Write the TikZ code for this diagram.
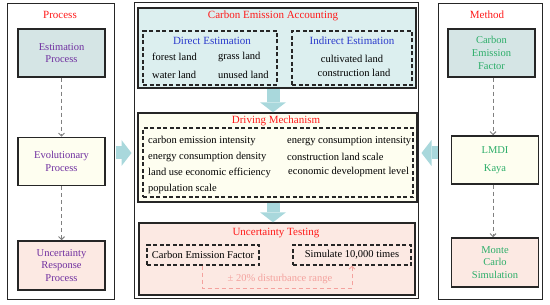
\documentclass[tikz,border=0pt]{standalone}
\usepackage{fontspec}
\setmainfont{Liberation Serif}
\usepackage{xcolor}
\usepackage{tikz}
\usetikzlibrary{arrows.meta, positioning}
\definecolor{myred}{HTML}{FF1A1A}
\definecolor{mypurple}{HTML}{7030A0}
\definecolor{mygreen}{HTML}{2EAE6A}
\definecolor{myblue}{HTML}{2B3ACC}
\definecolor{mypink}{HTML}{F4A29E}
\definecolor{arrowblue}{HTML}{A9D8DC}
\definecolor{tealfill}{HTML}{D5E5E5}
\definecolor{cyanfill}{HTML}{DCEFEF}
\definecolor{yellowfill}{HTML}{FEFEF0}
\definecolor{pinkfill}{HTML}{FCE9E3}

\begin{document}
\begin{tikzpicture}[x=1pt, y=-1pt,
      panel/.style={rectangle, draw=black!85, line width=1pt, minimum width=#1,
                    minimum height=295pt, inner sep=0pt},
      box/.style={rectangle, draw=black!85, line width=1.5pt, minimum width=87pt,
                  minimum height=48pt, align=center, font=\fontsize{10.5}{12.7}\selectfont},
      area/.style={rectangle, draw=black!85, line width=1.4pt, inner sep=0pt},
      dbox/.style={rectangle, draw=black!85, line width=1.3pt, dash pattern=on 4pt off 2.5pt,
                   inner sep=0pt, font=\fontsize{10.5}{12.7}\selectfont},
      title/.style={text=myred, font=\fontsize{11}{13}\selectfont, inner sep=0pt},
      subtitle/.style={text=myblue, font=\fontsize{11}{13}\selectfont, inner sep=0pt},
      item/.style={anchor=west, inner sep=0pt, font=\fontsize{10.5}{12.7}\selectfont},
      line/.style={inner sep=0pt, font=\fontsize{10.5}{12.7}\selectfont},
      flow/.style={-{Straight Barb[length=3pt, width=6pt]}, gray, line width=1pt,
                   dash pattern=on 4pt off 3pt},
      pinkflow/.style={-{Straight Barb[length=3pt, width=6pt]}, mypink, line width=0.8pt,
                       dash pattern=on 4pt off 3pt},
      fat/.style={arrowblue, line width=13pt,
                  -{Triangle[width=26pt 0 0, length=10pt 0 0, line width=0pt]}}
    ]
      \useasboundingbox (0,0) rectangle (550,305);
      \coordinate (mlev) at (0,153);
      \coordinate (mcol) at (273,0);

      % left column
      \node[panel=107pt] (proc) at (60.5,151.5) {};
      \node[title] (proctitle) at (60,15) {Process};
      \node[box, fill=tealfill, text=mypurple] (est) at (61.5,53) {Estimation\\Process};
      \node[box, fill=yellowfill, text=mypurple, below=59pt of est] (evo) {Evolutionary\\Process};
      \node[box, fill=pinkfill, text=mypurple, minimum height=49pt, below=54pt of evo] (unc)
        {Uncertainty\\Response\\Process};
      \draw[flow] (est) -- (evo);
      \draw[flow] (evo) -- (unc);

      % right column
      \node[panel=104pt] (meth) at (490,151.5) {};
      \node[title] (methtitle) at (487,15) {Method};
      \node[box, fill=tealfill, text=mygreen] (cef) at (491.5,53) {Carbon\\Emission\\Factor};
      \node[box, fill=yellowfill, text=mygreen] (lmdi) at (495,160) {LMDI\\[5pt]Kaya};
      \node[box, fill=pinkfill, text=mygreen, minimum height=49pt] (mc) at (495,262.5)
        {Monte\\Carlo\\Simulation};
      \draw[flow] (cef.south -| 493,0) -- (lmdi.north -| 493,0);
      \draw[flow] (lmdi.south -| 493,0) -- (mc.north -| 493,0);

      % middle column
      \node[panel=284pt] (mid) at (276,150.5) {};

      \node[area, fill=cyanfill, minimum width=278pt, minimum height=80pt] (acc) at (277,48) {};
      \node[title] (acctitle) at (273,16) {Carbon Emission Accounting};
      \node[dbox, minimum width=134pt, minimum height=54pt] (dir) at (210,58) {};
      \node[subtitle] (dirtitle) at (212,41) {Direct Estimation};
      \node[item] (forest) at (152,57) {forest land};
      \node[item] (grass) at (218,57) {grass land};
      \node[item] (water) at (152,75) {water land};
      \node[item] (unused) at (218,75) {unused land};
      \node[dbox, minimum width=120pt, minimum height=54pt] (ind) at (352,58) {};
      \node[subtitle] (indtitle) at (352,41) {Indirect Estimation};
      \node[line] (cult) at (352,59) {cultivated land};
      \node[line] (cons) at (354,73) {construction land};

      \node[area, fill=yellowfill, minimum width=279pt, minimum height=89pt] (drv) at (277.5,157.5) {};
      \node[title] (drvtitle) at (276,121) {Driving Mechanism};
      \node[dbox, minimum width=270pt, minimum height=69pt] (drvbox) at (278,162.5) {};
      \node[item] (cei) at (148,141) {carbon emission intensity};
      \node[item] (ecd) at (148,157) {energy consumption density};
      \node[item] (lue) at (148,173) {land use economic efficiency};
      \node[item] (pop) at (148,189) {population scale};
      \node[item] (eci) at (287,141) {energy consumption intensity};
      \node[item] (cls) at (287,157) {construction land scale};
      \node[item] (edl) at (288,172) {economic development level};

      \node[area, fill=pinkfill, minimum width=276pt, minimum height=72pt] (test) at (277,259) {};
      \node[title] (testtitle) at (276,233) {Uncertainty Testing};
      \node[dbox, minimum width=112pt, minimum height=20pt] (fac) at (203,255) {Carbon Emission Factor};
      \node[dbox, minimum width=118pt, minimum height=20pt] (sim) at (352,255) {Simulate 10,000 times};
      \coordinate (dl) at (202,288);
      \coordinate (dr) at (352,288);
      \draw[pinkflow] (fac.south -| dl) -- (dl) -- (dr) -- (sim.south -| dr);
      \node[line, text=mypink] (range) at (280,279) {± 20\% disturbance range};

      % block arrows
      \draw[fat, shorten <=1pt, shorten >=2pt] (proc.east |- mlev) -- (mid.west |- mlev);
      \draw[fat, shorten <=0pt, shorten >=3pt] (meth.west |- mlev) -- (mid.east |- mlev);
      \draw[fat] (acc.south -| mcol) -- (drv.north -| mcol);
      \draw[fat] (drv.south -| mcol) -- (test.north -| mcol);
    \end{tikzpicture}
\end{document}
